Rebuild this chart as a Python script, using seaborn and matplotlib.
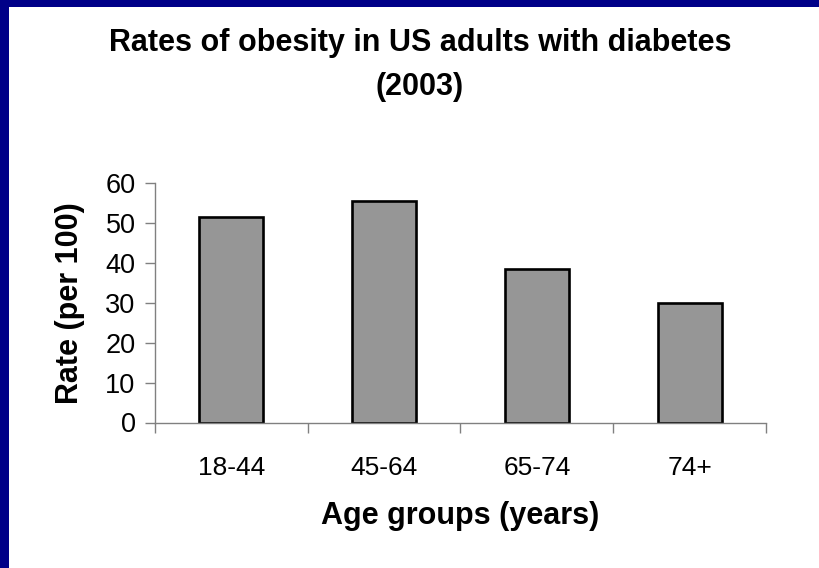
import matplotlib
matplotlib.use("Agg")
import matplotlib.pyplot as plt
import seaborn as sns
import pandas as pd
from matplotlib.patches import Rectangle
from matplotlib.ticker import FixedLocator

# data
age_groups = ["18-44", "45-64", "65-74", "74+"]
rates = [51.5, 55.5, 38.5, 30.0]
y_ticks = [0, 10, 20, 30, 40, 50, 60]

df = pd.DataFrame({"age": age_groups, "rate": rates})

sns.set_style("white")
plt.rcParams["font.family"] = ["Liberation Sans", "DejaVu Sans"]
plt.rcParams["text.color"] = "black"
plt.rcParams["axes.labelcolor"] = "black"
plt.rcParams["xtick.color"] = "black"
plt.rcParams["ytick.color"] = "black"

fig = plt.figure(figsize=(8.2, 5.68), dpi=100)
ax = fig.add_axes([155 / 820, 1 - 422.5 / 568, 611 / 820, 239.5 / 568])

sns.barplot(data=df, x="age", y="rate", ax=ax, color="#969696", width=0.42,
            edgecolor="black", linewidth=1.9, saturation=1)

ax.set_xlim(-0.5, len(age_groups) - 0.5)
ax.set_ylim(0, 60)
ax.set_yticks(y_ticks)

# category labels with no ticks, boundary ticks as minor ticks
ax.xaxis.set_minor_locator(FixedLocator([i - 0.5 for i in range(len(age_groups) + 1)]))
ax.tick_params(axis="x", which="major", bottom=True, length=0, pad=24, labelsize=19,
               labelcolor="black")
ax.tick_params(axis="x", which="minor", bottom=True, direction="out", length=7, width=1,
               color="#808080")
ax.tick_params(axis="y", which="major", left=True, direction="out", length=7, width=1,
               color="#808080", pad=7, labelsize=19.5, labelcolor="black")

for s in ["top", "right"]:
    ax.spines[s].set_visible(False)
for s in ["left", "bottom"]:
    ax.spines[s].set_color("#808080")
    ax.spines[s].set_linewidth(1)

ax.set_xlabel("Age groups (years)", fontsize=22, fontweight="bold", labelpad=15, color="black")
ax.set_ylabel("Rate (per 100)", fontsize=22, fontweight="bold", color="black")
ax.yaxis.set_label_coords(-0.114, 0.5)

fig.text(420 / 820, 1 - 65 / 568, "Rates of obesity in US adults with diabetes\n(2003)",
         ha="center", va="center", fontsize=22, fontweight="bold", linespacing=1.65,
         color="black")

# blue slide frame (top and left)
fig.patches.append(Rectangle((0, 1 - 7 / 568), 1, 7 / 568, transform=fig.transFigure,
                             facecolor="#000088", edgecolor="none"))
fig.patches.append(Rectangle((0, 0), 9 / 820, 1, transform=fig.transFigure,
                             facecolor="#000088", edgecolor="none"))

fig.savefig("out.png", dpi=100)
